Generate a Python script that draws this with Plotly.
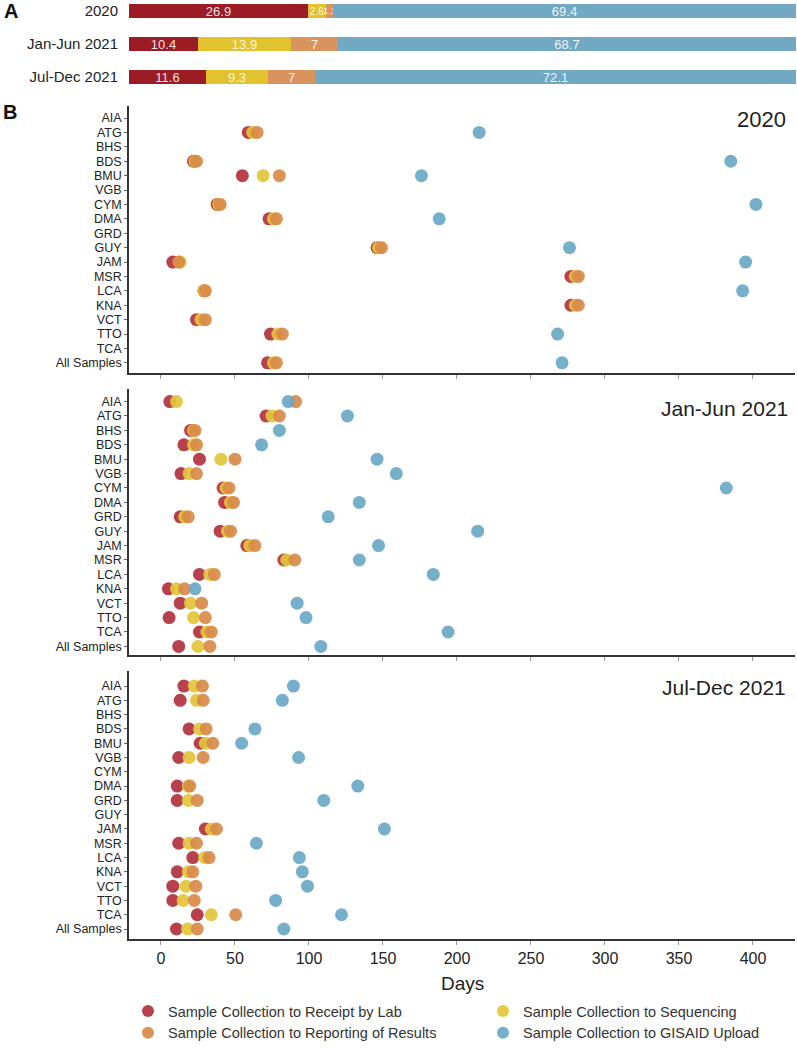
import plotly.graph_objects as go

# ---------------- data ----------------
periods = ["2020", "Jan-Jun 2021", "Jul-Dec 2021"]
pct_receipt = [26.9, 10.4, 11.6]
pct_sequencing = [2.6, 13.9, 9.3]
pct_reporting = [1.1, 7, 7]
pct_gisaid = [69.4, 68.7, 72.1]

countries = ["AIA", "ATG", "BHS", "BDS", "BMU", "VGB", "CYM", "DMA", "GRD", "GUY",
             "JAM", "MSR", "LCA", "KNA", "VCT", "TTO", "TCA", "All Samples"]

receipt_2020 = [None, 59, None, 22, 55, None, 38, 73, None, 146, 8, 277, 29, 277, 24, 74, None, 72]
sequencing_2020 = [None, 62, None, 23, 69, None, 39, 76, None, 147, 13, 280, 29, 280, 27, 79, None, 76]
reporting_2020 = [None, 65, None, 24, 80, None, 40, 78, None, 149, 12, 282, 30, 282, 30, 82, None, 78]
gisaid_2020 = [None, 215, None, 385, 176, None, 402, 188, None, 276, 395, None, 393, None, None, 268, None, 271]

receipt_h1_2021 = [6, 71, 20, 15.5, 26, 13.5, 42, 43, 13, 40, 58, 83, 26, 5, 13, 5.5, 26, 12]
sequencing_h1_2021 = [10.5, 75, 22, 22, 40.5, 19, 44, 47, 16, 45, 60, 85, 33, 10.5, 20, 22, 31, 25]
reporting_h1_2021 = [91, 80, 23, 24, 50, 24, 46, 49, 18.5, 47, 63.5, 90.5, 36, 16, 27.5, 30, 34, 33]
gisaid_h1_2021 = [86, 126, 80, 68, 146, 159, 382, 134, 113, 214, 147, 134, 184, 23, 92, 98, 194, 108]

receipt_h2_2021 = [15.5, 13, None, 19, 26.5, 12, None, 11, 11, None, 30, 12, 21.5, 11, 8, 8, 24.5, 10.5]
sequencing_h2_2021 = [22.5, 24, None, 26, 30, 19, None, 18.5, 18.5, None, 34, 19, 29.5, 18.5, 17, 15, 34, 18]
reporting_h2_2021 = [28, 28.5, None, 30.5, 35, 28.5, None, 19.5, 24.5, None, 37.5, 24, 32.5, 21.5, 23.5, 22.5, 50.5, 24.5]
gisaid_h2_2021 = [89.5, 82, None, 63.5, 54.5, 93, None, 133, 110, None, 151, 64.5, 93.5, 95.5, 99, 77.5, 122, 83]

series_names = ["Sample Collection to Receipt by Lab",
                "Sample Collection to Sequencing",
                "Sample Collection to Reporting of Results",
                "Sample Collection to GISAID Upload"]
x_ticks = [0, 50, 100, 150, 200, 250, 300, 350, 400]

# ---------------- style ----------------
bar_colors = ["#9B1C24", "#E2C22E", "#D8935F", "#71A9C3"]
dot_colors = ["#B2313F", "#E3C53A", "#D98A4A", "#6AA8C5"]
legend_ids = ["legend", "legend2", "legend", "legend2"]   # two legend columns
FONT = "Liberation Sans, Arial, Helvetica, sans-serif"
W, H = 797, 1049


def fx(p):
    return p / W


def fy(p):
    return 1 - p / H


def label_size(v):
    # narrow segments get smaller labels
    return 9 if v < 2 else (10 if v < 5 else 13)


fig = go.Figure()

# ---------------- panel A: stacked bars ----------------
for vals, color in zip([pct_receipt, pct_sequencing, pct_reporting, pct_gisaid], bar_colors):
    fig.add_trace(go.Bar(
        y=periods, x=vals, orientation="h",
        marker=dict(color=color, line=dict(width=0)),
        width=0.42,
        text=[f"{v:g}" for v in vals],
        textposition="inside", insidetextanchor="middle", constraintext="none",
        textangle=0,
        textfont=dict(color="rgba(255,255,255,0.88)", size=[label_size(v) for v in vals],
                      family=FONT),
        showlegend=False, hoverinfo="skip",
        xaxis="x", yaxis="y",
    ))

# ---------------- panel B: dot plots ----------------
panels = [
    [receipt_2020, sequencing_2020, reporting_2020, gisaid_2020],
    [receipt_h1_2021, sequencing_h1_2021, reporting_h1_2021, gisaid_h1_2021],
    [receipt_h2_2021, sequencing_h2_2021, reporting_h2_2021, gisaid_h2_2021],
]
for p, series in enumerate(panels):
    for k, vals in enumerate(series):
        fig.add_trace(go.Scatter(
            x=vals, y=countries, mode="markers",
            marker=dict(size=13, color=dot_colors[k], opacity=0.92, line=dict(width=0)),
            name=series_names[k], legendgroup=series_names[k],
            legend=legend_ids[k],
            showlegend=(p == 0),
            xaxis=f"x{p + 2}", yaxis=f"y{p + 2}",
        ))

legend_style = dict(orientation="v", xanchor="left", yanchor="top",
                    font=dict(size=14.5, color="#333", family=FONT),
                    traceorder="normal", bgcolor="rgba(0,0,0,0)",
                    tracegroupgap=0, itemsizing="constant")

layout = dict(
    width=W, height=H,
    margin=dict(l=0, r=0, t=0, b=0),
    paper_bgcolor="white", plot_bgcolor="white",
    barmode="stack", bargap=0,
    font=dict(family=FONT, color="#222"),
    xaxis=dict(domain=[fx(129), fx(796)], range=[0, 100], visible=False, fixedrange=True),
    yaxis=dict(domain=[fy(94), 1.0], type="category", categoryorder="array",
               categoryarray=periods, range=[2.49, -0.33], showline=False, ticks="",
               showgrid=False, zeroline=False, ticklabelstandoff=10,
               tickfont=dict(size=15, color="#222", family=FONT)),
    legend=dict(x=fx(128), y=fy(1004), **legend_style),
    legend2=dict(x=fx(483), y=fy(1004), **legend_style),
)

panel_domains = [(107, 376), (392, 661), (677, 947)]
panel_ranges = [[17.69, -0.83], [17.62, -0.9], [17.69, -1.04]]
for p in range(3):
    top, bot = panel_domains[p]
    layout[f"xaxis{p + 2}"] = dict(
        domain=[fx(129), fx(795)], range=[-21.6, 428.4], anchor=f"y{p + 2}",
        tickvals=x_ticks, ticks="outside", ticklen=4, tickcolor="#999", tickwidth=1,
        showline=True, linecolor="#333", linewidth=1.6,
        showgrid=False, zeroline=False, showticklabels=(p == 2),
        tickfont=dict(size=16, color="#222", family=FONT),
    )
    layout[f"yaxis{p + 2}"] = dict(
        domain=[fy(bot), fy(top)], anchor=f"x{p + 2}", type="category",
        categoryorder="array", categoryarray=countries, range=panel_ranges[p],
        tickmode="array", tickvals=countries, ticktext=countries,
        ticks="outside", ticklen=3, tickcolor="#666",
        showline=True, linecolor="#333", linewidth=1.6,
        showgrid=False, zeroline=False,
        tickfont=dict(size=12.5, color="#222", family=FONT),
    )

fig.update_layout(**layout)

annotations = [
    dict(text="<b>A</b>", x=fx(2), y=fy(11), xanchor="left", yanchor="middle",
         font=dict(size=20, color="#111", family=FONT)),
    dict(text="<b>B</b>", x=fx(1), y=fy(113), xanchor="left", yanchor="middle",
         font=dict(size=20, color="#111", family=FONT)),
    dict(text="2020", x=fx(788), y=fy(121), xanchor="right", yanchor="middle",
         font=dict(size=22, color="#222", family=FONT)),
    dict(text="Jan-Jun 2021", x=fx(790), y=fy(412), xanchor="right", yanchor="middle",
         font=dict(size=21, color="#222", family=FONT)),
    dict(text="Jul-Dec 2021", x=fx(788), y=fy(693), xanchor="right", yanchor="middle",
         font=dict(size=21, color="#222", family=FONT)),
    dict(text="Days", x=fx(462), y=fy(992), xanchor="center", yanchor="middle",
         font=dict(size=19, color="#222", family=FONT)),
]
for a in annotations:
    a.update(xref="paper", yref="paper", showarrow=False)
fig.update_layout(annotations=annotations)

fig.write_html("out.html",
               config={"displayModeBar": False},
               post_script="document.body.style.margin='0';document.body.style.overflow='hidden';")
